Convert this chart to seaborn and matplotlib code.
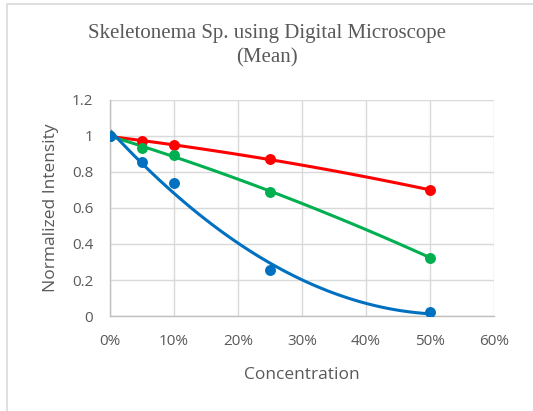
import numpy as np
import pandas as pd
import matplotlib
matplotlib.use("Agg")
import matplotlib.pyplot as plt
import seaborn as sns
from matplotlib.patches import Rectangle
from matplotlib.ticker import PercentFormatter

# concentration (fraction) and normalized intensity per series
conc = [0.0, 0.05, 0.10, 0.25, 0.50]
red_vals = [1.0, 0.97, 0.95, 0.87, 0.70]
green_vals = [1.0, 0.935, 0.895, 0.69, 0.325]
blue_vals = [1.0, 0.855, 0.74, 0.255, 0.02]

series = [
    ("red", red_vals, "#FF0000"),
    ("green", green_vals, "#00B050"),
    ("blue", blue_vals, "#0070C0"),
]

sns.set_theme(style="white")
plt.rcParams["font.family"] = ["Open Sans", "DejaVu Sans"]

fig = plt.figure(figsize=(5.33, 4.11), dpi=100)
ax = fig.add_axes([0.206, 0.231, 0.721, 0.526])

for name, vals, col in series:
    df = pd.DataFrame({"conc": conc, "val": vals})
    sns.regplot(data=df, x="conc", y="val", order=2, ci=None, ax=ax,
                color=col, scatter_kws={"s": 62, "linewidths": 0, "alpha": 1, "zorder": 3},
                line_kws={"lw": 2.2, "zorder": 2})

ax.set_xlim(0, 0.6)
ax.set_ylim(0, 1.2)
ax.set_xticks(np.arange(0, 0.61, 0.1))
ax.set_yticks(np.arange(0, 1.21, 0.2))
ax.xaxis.set_major_formatter(PercentFormatter(1.0, decimals=0))
ax.set_yticklabels(["0", "0.2", "0.4", "0.6", "0.8", "1", "1.2"])
ax.grid(True, color="#D9D9D9", lw=1)
ax.set_axisbelow(True)
for s in ["top", "right"]:
    ax.spines[s].set_visible(False)
for s in ["left", "bottom"]:
    ax.spines[s].set_color("#BFBFBF")
    ax.spines[s].set_linewidth(1)
ax.tick_params(axis="both", length=0, labelsize=11, colors="#595959")
ax.tick_params(axis="y", pad=12)
ax.tick_params(axis="x", pad=13)

ax.set_xlabel("Concentration", fontsize=12.5, color="#595959", labelpad=13)
ax.set_ylabel("Normalized Intensity", fontsize=12.5, color="#595959", labelpad=9)

fig.text(0.5, 0.888, "Skeletonema Sp. using Digital Microscope\n(Mean)",
         ha="center", va="center", fontsize=15, color="#595959",
         family="Liberation Serif", linespacing=1.35)

fig.patches.append(Rectangle((7 / 533, -0.1), 2, 1.1 - 4.5 / 411, transform=fig.transFigure,
                             fill=False, edgecolor="#D9D9D9", lw=1.2))

fig.savefig("out.png", dpi=100)
